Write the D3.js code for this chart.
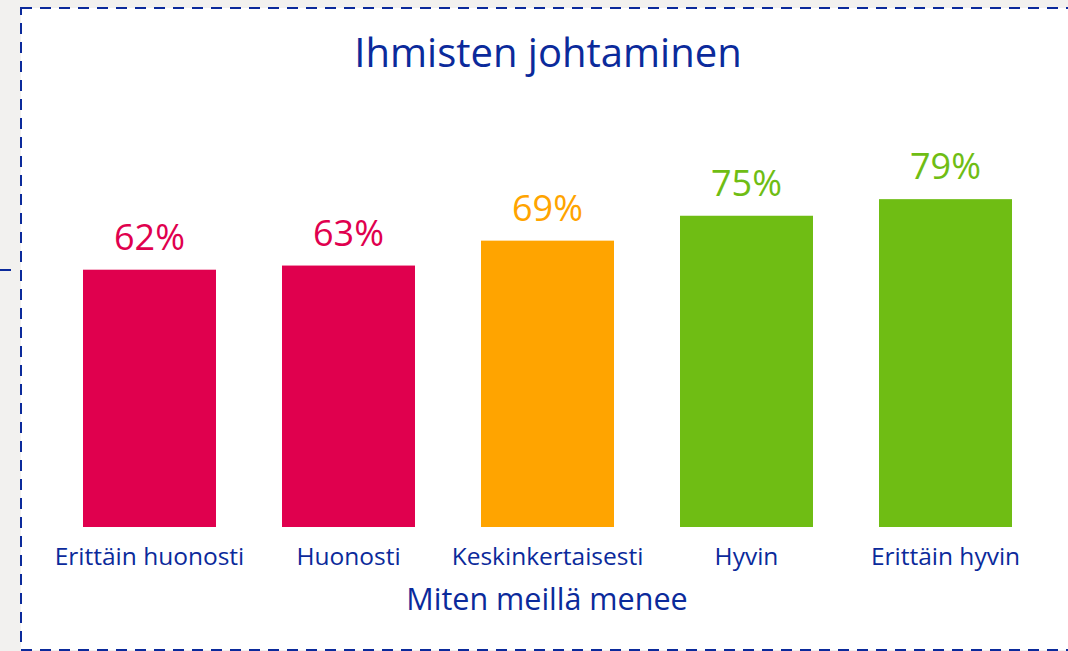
<!DOCTYPE html>
<html>
<head>
<meta charset="utf-8">
<script src="https://cdn.jsdelivr.net/npm/d3@7"></script>
<style>
  body { margin: 0; background: #f2f1ef; }
  text { font-family: 'Open Sans', sans-serif; }
</style>
</head>
<body>
<div class="canvas"></div>
<script>
// chart data
const categories = ['Erittäin huonosti', 'Huonosti', 'Keskinkertaisesti', 'Hyvin', 'Erittäin hyvin'];
const values = [62, 63, 69, 75, 79];
const barColors = ['#e0004e', '#e0004e', '#ffa400', '#6fbd14', '#6fbd14'];
const title = 'Ihmisten johtaminen';
const xTitle = 'Miten meillä menee';

const blue = '#0b2a9b';

const svg = d3.select('.canvas')
    .append('svg')
    .attr('width', 1068)
    .attr('height', 651)
    .style('display', 'block');

// white panel with dashed border
svg.append('rect')
    .attr('x', 21).attr('y', 8)
    .attr('width', 1100).attr('height', 642)
    .attr('fill', '#fff')
    .attr('stroke', blue)
    .attr('stroke-width', 2)
    .attr('stroke-dasharray', '11,8');

// little marker on the left
svg.append('line')
    .attr('x1', 0).attr('x2', 11)
    .attr('y1', 270).attr('y2', 270)
    .attr('stroke', blue).attr('stroke-width', 2);

const baseline = 527;

const x = d3.scaleBand()
    .domain(categories)
    .range([50, 1045])
    .paddingInner(0.3317)
    .paddingOuter(0.1658);

const y = d3.scaleLinear()
    .domain([0, 100])
    .range([baseline, baseline - 415]);

const graph = svg.append('g');

graph.selectAll('rect.bar')
    .data(values)
    .enter()
    .append('rect')
    .attr('class', 'bar')
    .attr('x', (d, i) => x(categories[i]))
    .attr('y', d => y(d))
    .attr('width', x.bandwidth())
    .attr('height', d => baseline - y(d))
    .attr('fill', (d, i) => barColors[i]);

// value labels
graph.selectAll('text.val')
    .data(values)
    .enter()
    .append('text')
    .attr('class', 'val')
    .attr('x', (d, i) => x(categories[i]) + x.bandwidth() / 2)
    .attr('y', d => y(d) - 20)
    .attr('text-anchor', 'middle')
    .attr('font-size', 36)
    .attr('fill', (d, i) => barColors[i])
    .text(d => d + '%');

// x axis (no line, no ticks)
const xAxis = d3.axisBottom(x).tickSize(0).tickPadding(0);
const xAxisGroup = svg.append('g')
    .attr('transform', `translate(0, ${baseline})`)
    .call(xAxis);
xAxisGroup.select('.domain').remove();
xAxisGroup.selectAll('text')
    .attr('y', 38)
    .attr('dy', null)
    .attr('font-size', 24.5)
    .attr('font-family', "'Open Sans', sans-serif")
    .attr('fill', blue);

svg.append('text')
    .attr('x', 547).attr('y', 610)
    .attr('text-anchor', 'middle')
    .attr('font-size', 30.5)
    .attr('fill', blue)
    .text(xTitle);

svg.append('text')
    .attr('x', 548).attr('y', 67)
    .attr('text-anchor', 'middle')
    .attr('font-size', 40)
    .attr('fill', blue)
    .text(title);
</script>
</body>
</html>
